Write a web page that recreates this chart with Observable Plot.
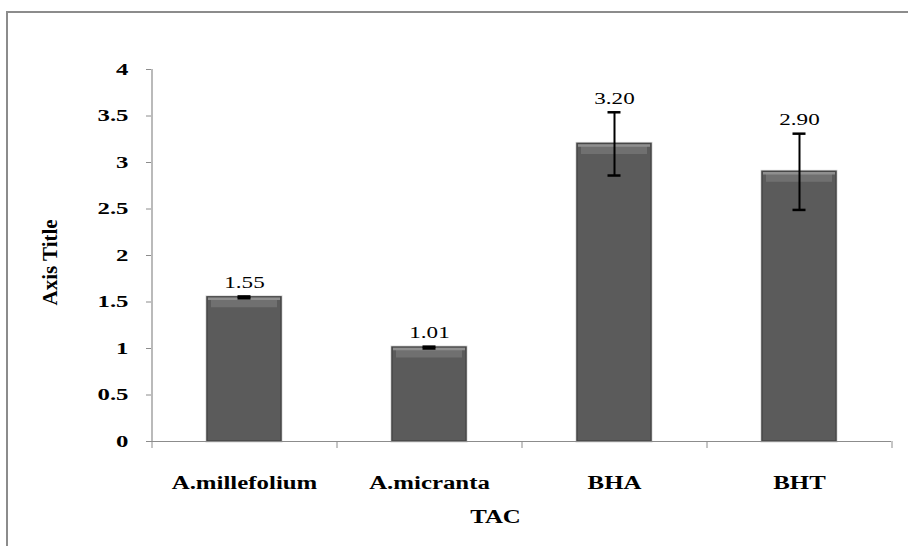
<!DOCTYPE html>
<html><head><meta charset="utf-8">
<script src="https://cdn.jsdelivr.net/npm/d3@7"></script>
<script src="https://cdn.jsdelivr.net/npm/@observablehq/plot@0.6"></script>
<style>
html,body{margin:0;padding:0;background:#fff;overflow:hidden;width:908px;height:546px;}
#chart{position:absolute;left:0;top:0;}
#chart svg, #chart svg text{font-family:"Liberation Serif","Times New Roman",serif !important;}
#border{position:absolute;left:6px;top:11px;width:1000px;height:1000px;border:2px solid #8c8c8c;pointer-events:none;}
</style></head><body>
<div id="chart"></div><div id="border"></div>
<script>
const categories = ["A.millefolium", "A.micranta", "BHA", "BHT"];
const values = [1.55, 1.01, 3.20, 2.90];
const errors = [0.01, 0.01, 0.34, 0.41];
const valueLabels = ["1.55", "1.01", "3.20", "2.90"];
const yTicks = [0, 0.5, 1, 1.5, 2, 2.5, 3, 3.5, 4];
const xTitle = "TAC";
const yTitle = "Axis Title";

const data = categories.map((c, i) => ({c, v: values[i], e: errors[i], label: valueLabels[i]}));

const W = 908, H = 546, mL = 151, mR = 17, mT = 69, mB = 105;
const step = (W - mL - mR) / categories.length;
const bw = step * 0.4;
const capInset = (bw - 13) / 2;
const axisGray = "#8c8c8c";

const plot = Plot.plot({
  width: W, height: H,
  marginLeft: mL, marginRight: mR, marginTop: mT, marginBottom: mB,
  style: {background: "transparent", overflow: "visible"},
  x: {domain: categories, paddingInner: 0.6, paddingOuter: 0.3},
  y: {domain: [0, 4]},
  marks: [
    // bars with halo + bevel
    Plot.barY(data, {x: "c", y: "v", fill: "#d6d6d6", stroke: "#d6d6d6", strokeWidth: 3}),
    Plot.barY(data, {x: "c", y: "v", fill: "#5b5b5b", stroke: "#474747", strokeWidth: 1.5}),
    Plot.tickY(data, {x: "c", y: "v", stroke: "#707070", strokeWidth: 9, dy: 5.5, insetLeft: 4, insetRight: 4}),
    Plot.tickY(data, {x: "c", y: "v", stroke: "#8f8f8f", strokeWidth: 2.5, dy: 1.5, insetLeft: 1, insetRight: 1}),
    // axis lines
    Plot.ruleY([0], {stroke: axisGray, strokeWidth: 1.2}),
    Plot.ruleX([categories[0]], {y1: 0, y2: 4, dx: -step / 2, stroke: axisGray, strokeWidth: 1.2}),
    // error bars
    Plot.ruleX(data, {x: "c", y1: d => d.v - d.e, y2: d => d.v + d.e, stroke: "#000", strokeWidth: 2}),
    Plot.tickY(data, {x: "c", y: d => d.v + d.e, stroke: "#000", strokeWidth: 2.5, insetLeft: capInset, insetRight: capInset}),
    Plot.tickY(data, {x: "c", y: d => d.v - d.e, stroke: "#000", strokeWidth: 2.5, insetLeft: capInset, insetRight: capInset}),
    // value labels
    Plot.text(data, {x: "c", y: d => d.v + d.e, text: "label", dy: -14, fontSize: 17.5, fill: "#000"}),
    // axes
    Plot.axisY({ticks: yTicks, tickSize: 5, tickPadding: 18, tickFormat: d => String(d), fontSize: 16, fontWeight: "bold", stroke: axisGray, fill: "#000", label: null}),
    Plot.axisX({tickSize: 0, tickPadding: 35, fontSize: 18, fontWeight: "bold", fill: "#000", label: null}),
    Plot.axisX({ticks: categories, tickSize: 7, tickFormat: () => "", dx: -step / 2, stroke: axisGray, label: null}),
    Plot.axisX({ticks: [categories[categories.length - 1]], tickSize: 7, tickFormat: () => "", dx: step / 2, stroke: axisGray, label: null}),
    // titles
    Plot.text([xTitle], {frameAnchor: "bottom", dy: 81, dx: -26, fontSize: 18, fontWeight: "bold", fill: "#000"}),
    Plot.text([yTitle], {frameAnchor: "left", rotate: -90, dx: -101, dy: 50, fontSize: 21, fontWeight: "bold", fill: "#000"})
  ]
});
document.getElementById("chart").append(plot);

// the reference's text is horizontally stretched; reproduce that
const tickSet = new Set(yTicks.map(String));
const catSet = new Set(categories.concat([xTitle]));
const valSet = new Set(valueLabels);
plot.querySelectorAll("text").forEach(t => {
  const s = t.textContent;
  let k = 1;
  if (tickSet.has(s)) k = 1.55;
  else if (catSet.has(s)) k = 1.38;
  else if (valSet.has(s)) k = 1.32;
  if (k !== 1) {
    const L = t.getComputedTextLength();
    t.setAttribute("textLength", L * k);
    t.setAttribute("lengthAdjust", "spacingAndGlyphs");
  }
});
</script>
</body></html>
